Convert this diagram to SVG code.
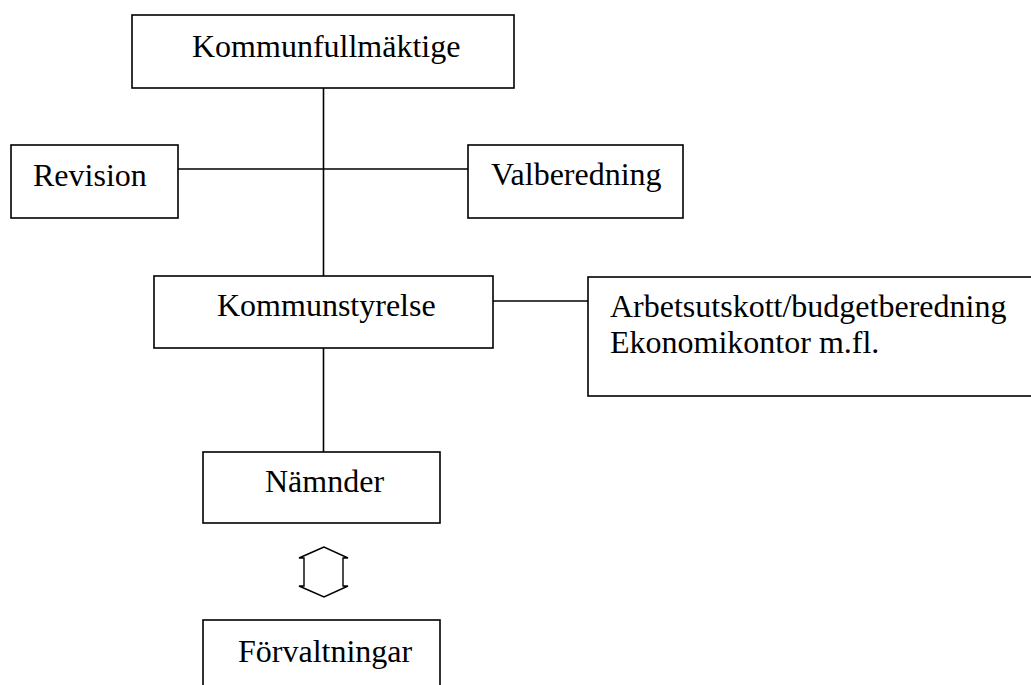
<svg xmlns="http://www.w3.org/2000/svg" width="1031" height="685" viewBox="0 0 1031 685">
  <style>
    .box { fill: #ffffff; stroke: #000000; stroke-width: 1.6; }
    .lbl { font-family: "Liberation Serif", "Times New Roman", serif; font-size: 32px; fill: #000000; }
    .conn line { stroke: #000000; stroke-width: 1.6; }
    .arrow { fill: #ffffff; stroke: #000000; stroke-width: 1.4; stroke-linejoin: miter; }
  </style>
  <rect width="1031" height="685" fill="#ffffff"/>

  <!-- connectors -->
  <g id="connectors" class="conn">
    <line x1="323.5" y1="88" x2="323.5" y2="276"/>
    <line x1="178" y1="169" x2="468" y2="169"/>
    <line x1="493" y1="301" x2="588" y2="301"/>
    <line x1="323.5" y1="348" x2="323.5" y2="452"/>
    <!-- two-way arrow between Nämnder and Förvaltningar -->
    <polygon class="arrow" points="324,547 299,558 304,558 304,586 299,586 324,597 348,586 343,586 343,558 348,558"/>
  </g>

  <g id="kommunfullmaktige">
    <rect class="box" x="132" y="15" width="382" height="73"/>
    <text class="lbl" x="192" y="57">Kommunfullmäktige</text>
  </g>

  <g id="revision">
    <rect class="box" x="11" y="145" width="167" height="73"/>
    <text class="lbl" x="33" y="186">Revision</text>
  </g>

  <g id="valberedning">
    <rect class="box" x="468" y="145" width="215" height="73"/>
    <text class="lbl" x="491" y="185">Valberedning</text>
  </g>

  <g id="kommunstyrelse">
    <rect class="box" x="154" y="276" width="339" height="72"/>
    <text class="lbl" x="217" y="316">Kommunstyrelse</text>
  </g>

  <g id="arbetsutskott">
    <rect class="box" x="588" y="277" width="460" height="119"/>
    <text class="lbl" x="610" y="317">Arbetsutskott/budgetberedning</text>
    <text class="lbl" x="610" y="353">Ekonomikontor m.fl.</text>
  </g>

  <g id="namnder">
    <rect class="box" x="203" y="452" width="237" height="71"/>
    <text class="lbl" x="265" y="492">Nämnder</text>
  </g>

  <g id="forvaltningar">
    <rect class="box" x="203" y="620" width="237" height="90"/>
    <text class="lbl" x="238" y="662">Förvaltningar</text>
  </g>
</svg>
